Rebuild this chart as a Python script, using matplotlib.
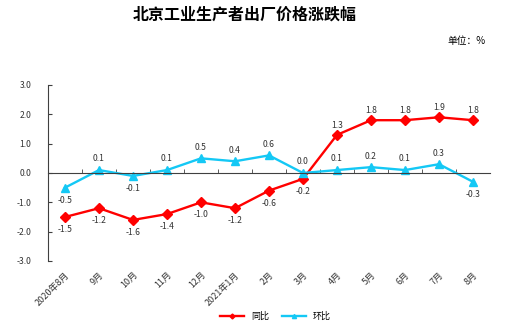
import matplotlib
matplotlib.use("Agg")
import matplotlib.pyplot as plt
import numpy as np

months = ["2020年8月", "9月", "10月", "11月", "12月", "2021年1月", "2月",
          "3月", "4月", "5月", "6月", "7月", "8月"]
yoy = [-1.5, -1.2, -1.6, -1.4, -1.0, -1.2, -0.6, -0.2, 1.3, 1.8, 1.8, 1.9, 1.8]
mom = [-0.5, 0.1, -0.1, 0.1, 0.5, 0.4, 0.6, 0.0, 0.1, 0.2, 0.1, 0.3, -0.3]
yticks = [-3.0, -2.0, -1.0, 0.0, 1.0, 2.0, 3.0]

plt.rcParams['font.family'] = ['Noto Sans CJK SC', 'DejaVu Sans']

RED = "#FF0000"
CYAN = "#14C8F5"
GREY = "#404040"

fig = plt.figure(figsize=(5.15, 3.3), dpi=100)
ax = fig.add_axes([48 / 515, 1 - 261 / 330, 442 / 515, 176 / 330])

x = np.arange(len(months))
ax.plot(x, yoy, color=RED, lw=1.7, marker="D", ms=5, label="同比")
ax.plot(x, mom, color=CYAN, lw=1.7, marker="^", ms=6, label="环比")

for xi, v in zip(x, yoy):
    off = 7 if v > 0 else -9
    ax.annotate(f"{v:.1f}", (xi, v), xytext=(0, off), textcoords="offset points",
                ha="center", va="center", fontsize=6.2, color="#333333")
for xi, v in zip(x, mom):
    off = 8 if v >= 0 else -9
    ax.annotate(f"{v:.1f}", (xi, v), xytext=(0, off), textcoords="offset points",
                ha="center", va="center", fontsize=6.2, color="#333333")

ax.set_xlim(-0.5, len(months) - 0.5)
ax.set_ylim(-3, 3)
ax.set_yticks(yticks)
ax.set_yticklabels([f"{t:.1f}" for t in yticks], fontsize=6.2, color="#333333")
ax.tick_params(axis="y", direction="in", length=3, color=GREY, pad=12)

ax.spines["top"].set_visible(False)
ax.spines["right"].set_visible(False)
ax.spines["bottom"].set_position(("data", 0))
for s in ("left", "bottom"):
    ax.spines[s].set_color(GREY)
    ax.spines[s].set_linewidth(0.8)

ax.set_xticks(x)
ax.set_xticks(x[:-1] + 0.5, minor=True)
ax.tick_params(axis="x", which="major", length=0, pad=70)
ax.tick_params(axis="x", which="minor", direction="in", length=3, color=GREY)
ax.set_xticklabels(months, fontsize=6.5, color="#333333", rotation=45,
                   ha="right", rotation_mode="anchor")

fig.text(0.475, 0.955, "北京工业生产者出厂价格涨跌幅", ha="center", va="center",
         fontsize=11.5, fontweight="bold")
fig.text(0.905, 0.875, "单位：%", ha="center", va="center", fontsize=7)

fig.legend(loc="center", bbox_to_anchor=(0.535, 0.04), ncol=2, frameon=False,
           fontsize=6.5, handlelength=2.6, columnspacing=1.5, markerscale=0.5)

fig.savefig("out.png", dpi=100)
